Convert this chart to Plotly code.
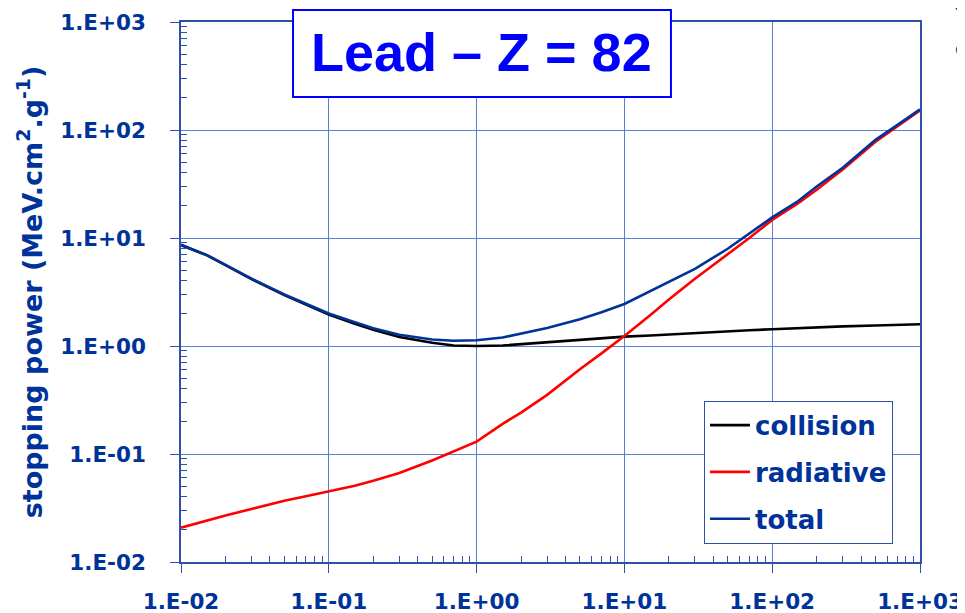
import plotly.graph_objects as go

# Electron kinetic energy (MeV)
energy = [0.01, 0.015, 0.02, 0.03, 0.05, 0.07, 0.1, 0.15, 0.2, 0.3, 0.5, 0.7,
          1, 1.5, 2, 3, 5, 7, 10, 15, 20, 30, 50, 70, 100, 150, 200, 300, 500, 700, 1000]

# Stopping powers (MeV.cm2/g)
collision = [8.6, 6.9, 5.6, 4.17, 2.96, 2.43, 1.96, 1.61, 1.41, 1.21, 1.07, 1.01,
             1.0, 1.01, 1.04, 1.08, 1.13, 1.18, 1.22, 1.25, 1.28, 1.32, 1.37, 1.40,
             1.43, 1.47, 1.49, 1.52, 1.55, 1.57, 1.59]
radiative = [0.0208, 0.0244, 0.0270, 0.031, 0.0369, 0.0406, 0.0448, 0.0507, 0.0564,
             0.0667, 0.0871, 0.106, 0.13, 0.19, 0.242, 0.353, 0.61, 0.855, 1.24, 1.94,
             2.7, 4.19, 7.06, 10.0, 14.7, 21.0, 28.0, 43.0, 78.0, 108.0, 152.0]
total = [8.65, 6.95, 5.65, 4.2, 3.0, 2.47, 2.0, 1.66, 1.46, 1.27, 1.15, 1.12,
         1.13, 1.2, 1.31, 1.47, 1.77, 2.05, 2.45, 3.24, 3.95, 5.17, 7.95, 10.9,
         15.5, 22.0, 30.0, 44.7, 81.0, 111.0, 155.0]

tick_vals = [1e-2, 1e-1, 1e0, 1e1, 1e2, 1e3]
tick_text = ["1.E-02", "1.E-01", "1.E+00", "1.E+01", "1.E+02", "1.E+03"]
minor_vals = [m * d for d in [1e-2, 1e-1, 1e0, 1e1, 1e2] for m in range(2, 10)]

series_names = ["collision", "radiative", "total"]
series_colors = ["#000000", "#ff0000", "#003399"]

LABEL = "#003399"
GRID = "#5b7fd0"
AXIS = "#2e50a8"

fig = go.Figure()
for name, ys, col in zip(series_names, [collision, radiative, total], series_colors):
    fig.add_trace(go.Scatter(x=energy, y=ys, mode="lines", name=name,
                             legendgroup=name,
                             line=dict(color=col, width=2.6)))

axis_common = dict(
    type="log", range=[-2, 3], automargin=False,
    tickmode="array", tickvals=tick_vals, ticktext=tick_text,
    ticks="outside", ticklen=9, tickcolor=AXIS, tickwidth=1,
    showgrid=True, gridcolor=GRID, gridwidth=1,
    showline=True, linecolor=AXIS, linewidth=1.5, mirror=True,
    zeroline=False,
    tickfont=dict(family="DejaVu Sans", size=21.5, color=LABEL, weight=700),
    minor=dict(tickmode="array", tickvals=minor_vals, ticks="inside",
               ticklen=6, tickcolor=AXIS, showgrid=False),
)

fig.update_xaxes(**axis_common, ticklabelstandoff=10)
fig.update_yaxes(**axis_common, ticklabelstandoff=20,
                 title=dict(text="stopping power (MeV.cm<sup>2</sup>.g<sup>-1</sup>)",
                            font=dict(family="DejaVu Sans", size=27, color=LABEL, weight=700),
                            standoff=10))

# Title box
fig.add_shape(type="rect", xref="paper", yref="paper",
              x0=0.1516, x1=0.663, y0=0.861, y1=1.022,
              line=dict(color="#0000ff", width=2), fillcolor="white", layer="above")
fig.add_annotation(xref="paper", yref="paper", x=0.407, y=0.944,
                   text="Lead – Z = 82", showarrow=False,
                   font=dict(family="Liberation Sans", size=54, color="#0000ff", weight=700),
                   xanchor="center", yanchor="middle")

# Clipped fragments of a rotated label at the right edge of the original image
for txt, ypos in [("1", 1.028), ("2", 0.948)]:
    fig.add_annotation(xref="paper", yref="paper", x=1.058, y=ypos,
                       text=txt, showarrow=False, textangle=-90,
                       font=dict(family="Liberation Sans", size=22, color=LABEL, weight=700),
                       xanchor="center", yanchor="middle")

# The page body has an 8px margin, so the figure is shrunk by 8px and margins adjusted
fig.update_layout(
    width=957, height=605,
    margin=dict(l=173, r=45, t=14, b=51, autoexpand=False),
    paper_bgcolor="white", plot_bgcolor="white",
    showlegend=True,
    legend=dict(x=0.7077, y=0.2987, xanchor="left", yanchor="top",
                bordercolor=AXIS, borderwidth=1, bgcolor="white",
                font=dict(family="DejaVu Sans", size=26, color=LABEL, weight=700),
                tracegroupgap=10, traceorder="grouped", itemwidth=40),
)

fig.write_html("out.html")
